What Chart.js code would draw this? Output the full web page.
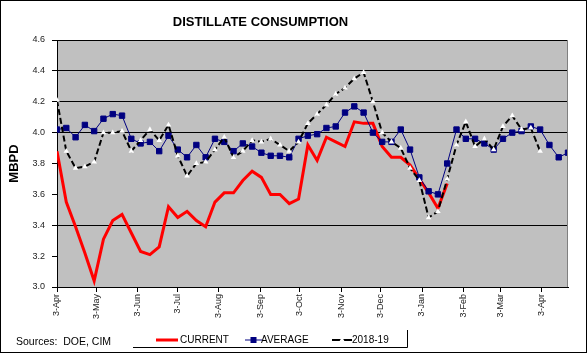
<!DOCTYPE html>
<html>
<head>
<meta charset="utf-8">
<script src="https://cdn.jsdelivr.net/npm/chart.js@4/dist/chart.umd.min.js"></script>
<style>
html,body{margin:0;padding:0;background:#fff;}
#wrap{width:587px;height:353px;position:relative;}
</style>
</head>
<body>
<div id="wrap"><canvas id="c" width="587" height="353"></canvas></div>
<script>
// ---- data ----
const titleText = 'DISTILLATE CONSUMPTION';
const yAxisTitle = 'MBPD';
const sourceText = 'Sources:  DOE, CIM';
const seriesNames = ['CURRENT', 'AVERAGE', '2018-19'];
const tickLabels = ['3-Apr','3-May','3-Jun','3-Jul','3-Aug','3-Sep','3-Oct','3-Nov','3-Dec','3-Jan','3-Feb','3-Mar','3-Apr'];
const tickDays = [0,30,61,91,122,153,183,214,244,275,306,334,365];
const yTicks = [3.0,3.2,3.4,3.6,3.8,4.0,4.2,4.4,4.6];
const gridValues = [4.6,4.4,4.2,4.0,3.4];

const current = [3.88,3.55,3.39,3.22,3.04,3.31,3.43,3.47,3.35,3.23,3.21,3.26,3.52,3.45,
  3.49,3.43,3.39,3.55,3.61,3.61,3.69,3.75,3.71,3.60,3.60,3.54,3.57,3.92,3.82,3.97,
  3.94,3.91,4.07,4.06,4.06,3.91,3.84,3.84,3.79,3.70,3.61,3.51,3.67];
const average = [4.02,4.03,3.97,4.05,4.01,4.09,4.12,4.11,3.96,3.93,3.94,3.88,3.98,3.89,
  3.84,3.92,3.84,3.96,3.94,3.88,3.93,3.91,3.87,3.85,3.85,3.84,3.96,3.98,3.99,4.03,
  4.04,4.13,4.17,4.13,4.00,3.94,3.94,4.02,3.89,3.71,3.62,3.60,3.80,4.02,3.96,3.96,
  3.93,3.89,3.96,4.00,4.01,4.04,4.02,3.92,3.84,3.87];
const last2018 = [4.21,3.88,3.77,3.78,3.81,4.00,4.00,4.01,3.88,3.95,4.02,3.95,4.05,3.85,
  3.72,3.80,3.81,3.89,3.97,3.84,3.88,3.95,3.94,3.96,3.92,3.88,3.94,4.06,4.12,4.18,
  4.25,4.29,4.35,4.39,4.20,4.00,3.94,3.90,3.77,3.69,3.45,3.49,3.70,3.92,4.07,3.91,
  3.96,3.89,4.04,4.11,4.02,4.03,3.88];

const toPts = arr => arr.map((v, i) => ({x: i, y: v}));
const FONT = '"Liberation Sans", Arial, sans-serif';

const deco = {
  id: 'deco',
  beforeDraw(chart) {
    const {ctx, chartArea: a} = chart;
    ctx.save();
    ctx.fillStyle = '#fff';
    ctx.fillRect(0, 0, chart.width, chart.height);
    ctx.fillStyle = '#c0c0c0';
    ctx.fillRect(a.left, a.top, a.right - a.left, a.bottom - a.top);
    ctx.restore();
  },
  afterDraw(chart) {
    const {ctx, chartArea: a} = chart;
    ctx.save();
    // right border of plot
    ctx.strokeStyle = '#808080';
    ctx.lineWidth = 1;
    ctx.beginPath();
    ctx.moveTo(Math.round(a.right) - 0.5, a.top);
    ctx.lineTo(Math.round(a.right) - 0.5, a.bottom);
    ctx.stroke();
    // outer border
    ctx.strokeStyle = '#000';
    ctx.strokeRect(0.5, 0.5, chart.width - 1, chart.height - 1);
    // title
    ctx.fillStyle = '#000';
    ctx.font = 'bold 13px ' + FONT;
    ctx.textAlign = 'center';
    ctx.textBaseline = 'middle';
    ctx.fillText(titleText, 260.5, 22);
    // sources
    ctx.font = '10.5px ' + FONT;
    ctx.textAlign = 'left';
    ctx.fillText(sourceText, 16, 342);
    // legend frame (bottom + right)
    ctx.strokeStyle = '#000';
    ctx.lineWidth = 1;
    ctx.beginPath();
    ctx.moveTo(133, 347.5);
    ctx.lineTo(407.5, 347.5);
    ctx.lineTo(407.5, 330);
    ctx.stroke();
    // legend items
    const items = [
      {x0: 156, x1: 178, tx: 180},
      {x0: 245, x1: 262, tx: 261},
      {x0: 332, x1: 352, tx: 352}
    ];
    const ly = 340;
    chart.data.datasets.forEach(ds => {
      const idx = seriesNames.indexOf(ds.label);
      const it = items[idx];
      ctx.strokeStyle = ds.borderColor;
      ctx.lineWidth = ds.borderWidth;
      ctx.setLineDash([]);
      ctx.beginPath();
      ctx.moveTo(it.x0, ly);
      ctx.lineTo(it.x1, ly);
      ctx.stroke();
      const mx = (it.x0 + it.x1) / 2;
      if (ds.pointStyle === 'rect') {
        ctx.fillStyle = ds.pointBackgroundColor;
        ctx.fillRect(mx - 3, ly - 3, 6, 6);
      } else if (ds.pointStyle === 'triangle') {
        ctx.fillStyle = '#fff';
        ctx.beginPath();
        ctx.moveTo(mx, ly - 3);
        ctx.lineTo(mx + 3, ly + 2);
        ctx.lineTo(mx - 3, ly + 2);
        ctx.closePath();
        ctx.fill();
      }
      ctx.fillStyle = '#000';
      ctx.font = '10px ' + FONT;
      ctx.textAlign = 'left';
      ctx.textBaseline = 'middle';
      ctx.fillText(ds.label, it.tx, ly);
    });
    ctx.restore();
  }
};

new Chart(document.getElementById('c'), {
  type: 'line',
  data: {
    datasets: [
      {
        label: seriesNames[2], data: toPts(last2018),
        borderColor: '#000', borderWidth: 2, borderDash: [6, 3],
        pointStyle: 'triangle', pointRadius: 3.2,
        pointBackgroundColor: '#fff', pointBorderColor: '#fff', pointBorderWidth: 0,
        tension: 0, order: 1
      },
      {
        label: seriesNames[1], data: toPts(average),
        borderColor: '#000080', borderWidth: 1,
        pointStyle: 'rect', pointRadius: 3.8,
        pointBackgroundColor: '#000080', pointBorderColor: '#000080', pointBorderWidth: 1,
        tension: 0, order: 2
      },
      {
        label: seriesNames[0], data: toPts(current),
        borderColor: '#ff0000', borderWidth: 3, pointRadius: 0,
        tension: 0, order: 3
      }
    ]
  },
  options: {
    responsive: false,
    animation: false,
    devicePixelRatio: 1,
    layout: {padding: {top: 40, right: 19, left: 0, bottom: 0}},
    plugins: {
      legend: {display: false},
      tooltip: {enabled: false},
      title: {display: false}
    },
    scales: {
      x: {
        type: 'linear', min: 0, max: 55,
        afterBuildTicks: s => { s.ticks = tickDays.map(d => ({value: d / 7})); },
        afterFit: s => { s.height = 66; },
        ticks: {
          autoSkip: false, minRotation: 90, maxRotation: 90, padding: 2,
          color: '#222', font: {size: 9, family: FONT},
          callback: (v, i) => tickLabels[i]
        },
        grid: {display: true, drawOnChartArea: false, drawTicks: true, tickLength: 5, tickColor: '#000', color: '#000'},
        border: {display: true, color: '#000', width: 1}
      },
      y: {
        min: 3.0, max: 4.6,
        afterBuildTicks: s => { s.ticks = yTicks.map(v => ({value: v})); },
        afterFit: s => { s.width = 57; },
        ticks: {
          padding: 7, color: '#222', font: {size: 9, family: FONT},
          callback: v => Number(v).toFixed(1)
        },
        grid: {
          drawTicks: true, tickLength: 5, tickColor: '#000', lineWidth: 1,
          color: c => gridValues.some(g => Math.abs(g - c.tick.value) < 1e-6) ? '#000' : 'rgba(0,0,0,0)'
        },
        border: {display: true, color: '#000', width: 1},
        title: {
          display: true, text: yAxisTitle, color: '#000',
          font: {size: 13, weight: 'bold', family: FONT},
          padding: {top: 7, bottom: 0}
        }
      }
    }
  },
  plugins: [deco]
});
</script>
</body>
</html>
